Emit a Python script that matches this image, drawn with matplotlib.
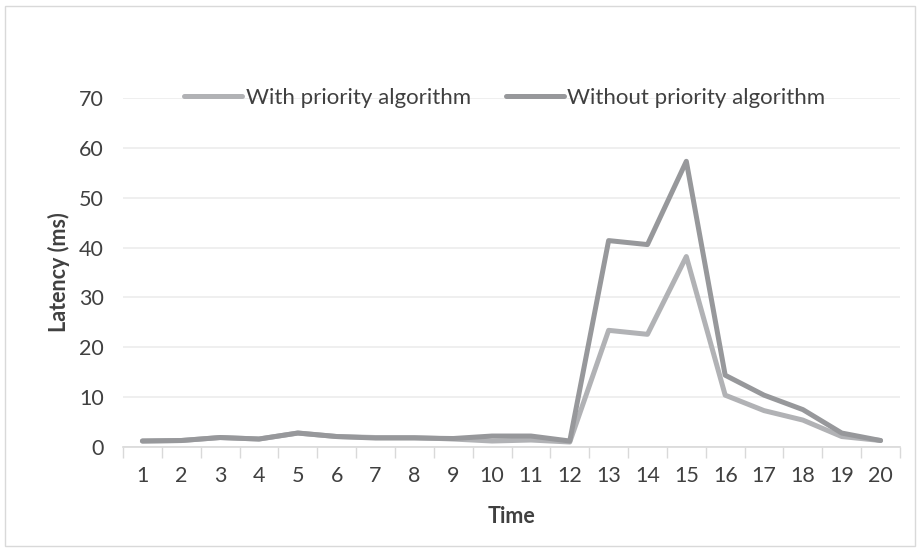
import matplotlib.pyplot as plt
import numpy as np

time = list(range(1, 21))
with_priority = [1.2, 1.3, 1.9, 1.6, 2.8, 2.1, 1.9, 1.9, 1.6, 1.2,
                 1.4, 1.0, 23.4, 22.6, 38.2, 10.4, 7.3, 5.4, 2.1, 1.3]
without_priority = [1.2, 1.3, 1.9, 1.6, 2.8, 2.1, 1.8, 1.8, 1.7, 2.2,
                    2.2, 1.2, 41.4, 40.6, 57.3, 14.4, 10.4, 7.5, 2.8, 1.3]
yticks = [0, 10, 20, 30, 40, 50, 60, 70]

plt.rcParams['font.family'] = ['Lato', 'DejaVu Sans']

fig = plt.figure(figsize=(9.18, 5.53), dpi=100)
ax = fig.add_axes([123/918, 1 - 447/553, (900 - 123)/918, (447 - 98)/553])

ax.plot(time, with_priority, color='#b1b2b5', lw=3.6, solid_capstyle='round',
        solid_joinstyle='round', label='With priority algorithm')
ax.plot(time, without_priority, color='#97989b', lw=3.6, solid_capstyle='round',
        solid_joinstyle='round', label='Without priority algorithm')

ax.set_xlim(0.5, 20.5)
ax.set_ylim(0, 70)
ax.set_yticks(yticks)
ax.set_xticks(time)
ax.set_xticks(np.arange(0.5, 21, 1), minor=True)
ax.tick_params(axis='x', which='major', length=0, labelsize=15.5, colors='#404040', pad=14)
ax.tick_params(axis='x', which='minor', length=8, color='#d9d9d9', width=1)
ax.tick_params(axis='y', length=0, labelsize=15.5, colors='#404040', pad=14)
ax.grid(axis='y', color='#ececec', lw=1.2)
ax.set_axisbelow(True)
for s in ['top', 'right', 'left']:
    ax.spines[s].set_visible(False)
ax.spines['bottom'].set_color('#d9d9d9')
ax.spines['bottom'].set_linewidth(1.2)

ax.set_ylabel('Latency (ms)', fontsize=15.5, fontweight='bold', color='#404040', labelpad=6)
ax.set_xlabel('Time', fontsize=15.5, fontweight='bold', color='#404040', labelpad=14)

fig.legend(loc='center', bbox_to_anchor=(505/918, 1 - 98/553), ncol=2, frameon=False,
           fontsize=16, labelcolor='#404040', handlelength=2.6, handletextpad=0.15,
           columnspacing=1.6)

border = plt.Rectangle((5/918, 7/553), 910/918, 540/553, transform=fig.transFigure,
                       fill=False, edgecolor='#d9d9d9', lw=1)
fig.patches.append(border)

fig.savefig('out.png', dpi=100)
